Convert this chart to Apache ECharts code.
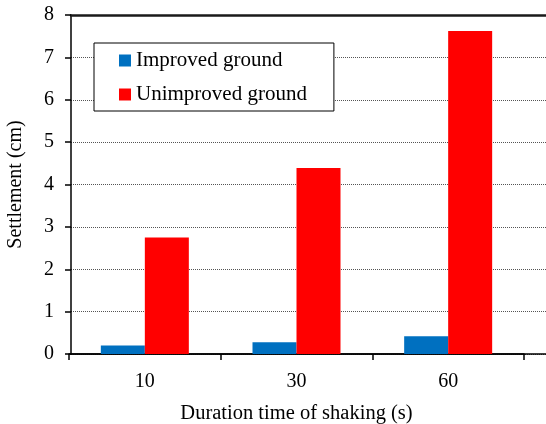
<!DOCTYPE html>
<html>
<head>
<meta charset="utf-8">
<script src="https://cdn.jsdelivr.net/npm/echarts@6/dist/echarts.min.js"></script>
<style>
  html, body { margin: 0; padding: 0; background: #fff; }
  #main { width: 546px; height: 424px; }
</style>
</head>
<body>
<div id="main"></div>
<script>
// durations of shaking (s)
const categories = ['10', '30', '60']
// settlement (cm)
const improved = [0.2, 0.28, 0.42]
const unimproved = [2.75, 4.39, 7.62]
const yTicks = { min: 0, max: 8, interval: 1 }

const font = 'Liberation Serif'
const chart = echarts.init(document.getElementById('main'))

const option = {
  animation: false,
  backgroundColor: '#fff',
  textStyle: { fontFamily: font, color: '#000' },
  grid: [
    // bars
    { left: 69, right: 22, top: 15, bottom: 70, outerBoundsMode: 'none', containLabel: false },
    // frame, gridlines (run to the right edge)
    { left: 71, right: 0, top: 15, bottom: 70, outerBoundsMode: 'none', containLabel: false }
  ],
  legend: {
    orient: 'vertical',
    left: 94,
    top: 43,
    padding: [7, 27, 6, 25],
    itemGap: 13,
    itemWidth: 12,
    itemHeight: 12,
    borderColor: '#000',
    borderWidth: 1,
    backgroundColor: '#fff',
    textStyle: { fontFamily: font, fontSize: 21, color: '#000' },
    data: [
      { name: 'Improved ground', icon: 'rect' },
      { name: 'Unimproved ground', icon: 'rect' }
    ]
  },
  xAxis: [
    {
      type: 'category',
      gridIndex: 0,
      data: categories,
      name: 'Duration time of shaking (s)',
      nameLocation: 'middle',
      nameGap: 49,
      nameTextStyle: { fontFamily: font, fontSize: 20.5, color: '#000' },
      axisLine: { show: true, lineStyle: { color: '#000', width: 1.5 } },
      axisTick: { show: true, length: 6, lineStyle: { color: '#000', width: 1.5 } },
      axisLabel: { margin: 18, fontFamily: font, fontSize: 20, color: '#000' },
      splitLine: { show: false }
    },
    {
      // bottom line across the whole plot
      type: 'value',
      gridIndex: 1,
      position: 'bottom',
      min: 0,
      max: 1,
      axisLine: { show: true, onZero: false, lineStyle: { color: '#000', width: 1.5 } },
      axisTick: { show: false },
      axisLabel: { show: false },
      splitLine: { show: false }
    },
    {
      // top line of the plot
      type: 'value',
      gridIndex: 1,
      position: 'top',
      min: 0,
      max: 1,
      axisLine: { show: true, onZero: false, lineStyle: { color: '#1a1a1a', width: 2.5 } },
      axisTick: { show: false },
      axisLabel: { show: false },
      splitLine: { show: false }
    }
  ],
  yAxis: [
    {
      type: 'value',
      gridIndex: 0,
      min: yTicks.min,
      max: yTicks.max,
      interval: yTicks.interval,
      show: false,
      splitLine: { show: false }
    },
    {
      type: 'value',
      gridIndex: 1,
      min: yTicks.min,
      max: yTicks.max,
      interval: yTicks.interval,
      name: 'Settlement (cm)',
      nameLocation: 'middle',
      nameGap: 45,
      nameTextStyle: { fontFamily: font, fontSize: 20, color: '#000' },
      axisLine: { show: true, lineStyle: { color: '#000', width: 1.5 } },
      axisTick: { show: true, length: 6, lineStyle: { color: '#000', width: 1.5 } },
      axisLabel: { margin: 17, fontFamily: font, fontSize: 20, color: '#000' },
      splitLine: { show: true, lineStyle: { color: '#555', type: 'dotted', width: 1 } }
    }
  ],
  series: [
    {
      name: 'Improved ground',
      type: 'bar',
      xAxisIndex: 0,
      yAxisIndex: 0,
      data: improved,
      barWidth: 44,
      barGap: '0%',
      itemStyle: { color: '#0070C0' }
    },
    {
      name: 'Unimproved ground',
      type: 'bar',
      xAxisIndex: 0,
      yAxisIndex: 0,
      data: unimproved,
      barWidth: 44,
      barGap: '0%',
      itemStyle: { color: '#FF0000' }
    }
  ]
}

option && chart.setOption(option)
</script>
</body>
</html>
